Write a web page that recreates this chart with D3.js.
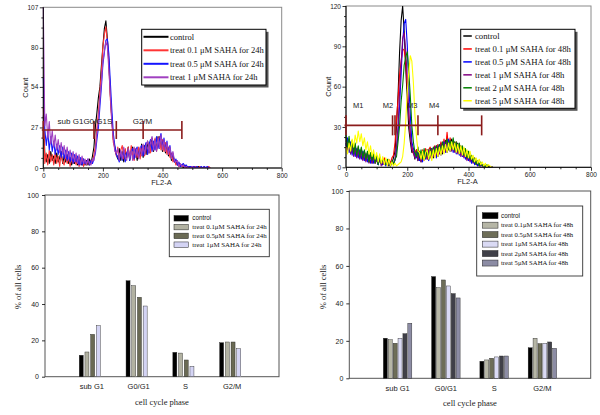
<!DOCTYPE html>
<html><head><meta charset="utf-8">
<script src="https://cdn.jsdelivr.net/npm/d3@7"></script>
<style>body{margin:0;background:#fff}svg{display:block}</style>
</head><body>
<svg id="c" width="600" height="415"></svg>
<script>
// ---------------- DATA ----------------
// Flow cytometry histograms (FL2-A channel, sampled every 5 units)
const channels24 = d3.range(0, 565, 5);
const channels48 = d3.range(0, 485, 5);

const names24 = ["control", "treat 0.1 \u03bcM SAHA for 24h", "treat 0.5 \u03bcM SAHA for 24h", "treat 1 \u03bcM SAHA for 24h"];
const colors24 = ["#000000", "#ff3535", "#1414ff", "#a040c0"];
const ctrl24 = [35,10,4,9,3,11,5,8,3,10, 4,7,11,3,8,4,9,3,7,2, 6,3,8,2,6,3,2,6,2,5, 2,6,3,8,14,28,37,47,54,68,
  81,93,98,86,71,49,33,19,14,9, 6,13,5,11,4,12,7,14,5,11, 14,6,12,5,13,8,16,7,15,9, 18,10,16,20,11,19,12,21,13,18,
  11,17,10,15,8,12,5,9,4,5, 2,3,1,2,0,2,0,1,0,1, 0,1,0,0,1,0,0,0,0,0, 0,0,0];
const t01_24 = [40,3,10,2,12,4,9,2,11,3, 8,1,10,4,2,9,3,7,1,6, 3,8,2,6,1,5,6,1,5,2, 6,2,5,4,9,15,27,37,51,64,
  81,89,94,84,69,46,31,17,13,8, 14,6,12,15,6,13,7,14,6,15, 8,5,13,7,14,6,13,15,8,16, 9,17,10,18,12,20,11,18,21,12,
  19,11,17,9,14,7,10,4,6,2, 4,1,2,1,2,0,1,0,1,0, 1,0,1,0,0,1,0,0,1,0, 0,1,0];
const t05_24 = [60,26,15,24,12,21,11,18,9,16, 9,15,7,14,6,12,5,11,4,10, 3,9,4,8,2,7,2,6,3,4, 6,2,5,3,6,10,19,27,41,54,
  69,77,85,86,76,57,39,23,15,9, 7,4,11,5,12,4,10,12,5,11, 13,6,12,14,7,13,15,8,14,17, 9,16,19,11,18,12,21,13,19,23,
  14,20,12,18,10,15,7,10,4,6, 2,4,1,2,3,1,2,0,1,1, 0,1,0,1,0,0,1,0,1,0, 1,0,0];
const t1_24 = [107,28,36,20,31,16,25,14,22,12, 19,10,17,9,15,7,14,6,12,5, 11,4,10,3,9,2,8,3,6,2, 6,3,2,6,5,12,23,32,46,57,
  71,78,84,81,65,49,30,20,11,10, 13,5,12,6,14,7,5,13,6,12, 5,14,7,13,6,14,8,16,9,15, 18,10,17,21,12,19,11,20,13,22,
  12,19,11,17,9,14,6,11,5,4, 5,1,3,1,2,0,1,0,0,0, 1,0,0,0,0,0,0,0,0,0, 0,0,0];

const names48 = ["control", "treat 0.1 \u03bcM SAHA for 48h", "treat 0.5 \u03bcM SAHA for 48h", "treat 1 \u03bcM SAHA for 48h", "treat 2 \u03bcM SAHA for 48h", "treat 5 \u03bcM SAHA for 48h"];
const colors48 = ["#000000", "#ff0000", "#0000ff", "#800080", "#008000", "#ffff00"];
const ctrl48 = [18,12,18,10,17,9,15,8,14,7, 13,6,12,5,11,4,10,3,9,4, 8,2,7,3,2,6,2,5,1,4, 3,7,12,31,54,86,109,120,101,74,
  51,29,19,11,12,6,13,5,11,4, 12,6,9,13,6,12,14,7,13,16, 8,15,18,10,17,20,11,19,12,21, 13,19,11,18,10,16,9,14,7,12,
  6,9,4,7,3,5,2,3,1,2, 0,1,0,1,0,0,0];
const t01_48 = [22,14,21,11,19,10,17,8,15,7, 14,6,12,5,11,4,10,4,9,3, 8,3,6,4,2,7,3,2,6,3, 7,9,18,36,51,69,79,88,87,79,
  59,41,24,16,10,11,13,7,12,5, 13,7,14,6,13,15,7,14,16,9, 17,10,19,12,21,13,26,14,22,13, 20,12,19,11,17,10,15,8,13,6,
  11,5,8,4,7,2,4,1,3,1, 2,0,1,0,0,0,0];
const t05_48 = [16,22,11,19,9,16,8,14,7,13, 6,12,5,10,4,9,3,9,3,8, 6,2,7,3,2,5,1,5,2,1, 4,3,5,13,24,46,69,93,107,110,
  91,61,39,19,14,9,7,13,5,11, 4,12,6,13,5,11,14,8,15,7, 14,17,9,16,19,11,18,21,12,19, 11,18,10,17,9,15,8,13,6,11,
  5,8,3,7,2,4,1,3,1,2, 0,1,0,0,0,0,0];
const t1_48 = [20,13,20,10,16,8,15,7,13,6, 12,5,11,4,10,3,9,3,8,3, 5,3,6,1,6,2,3,5,2,1, 4,3,6,16,31,56,77,96,100,87,
  66,39,25,13,11,7,12,5,11,4, 11,5,12,6,13,7,14,8,15,9, 16,10,17,11,18,12,20,13,19,12, 18,11,17,10,15,8,13,7,12,5,
  10,4,7,3,6,2,4,1,2,1, 1,0,0,0,0,0,0];
const t2_48 = [24,15,23,12,20,10,18,9,16,8, 15,7,13,6,12,4,11,5,10,3, 9,2,8,3,6,4,2,6,3,1, 5,2,6,8,19,31,49,61,76,82,
  86,71,53,31,19,11,8,15,7,13, 6,14,7,13,6,14,8,15,9,16, 10,17,11,19,12,18,21,13,20,14, 22,13,19,12,18,11,16,9,14,7,
  12,6,9,4,7,2,5,1,4,1, 2,0,2,0,0,0,0];
const t5_48 = [15,10,18,12,21,15,24,18,27,19, 25,16,22,13,19,10,16,8,13,6, 11,4,10,3,8,2,7,1,6,1, 4,1,3,1,2,3,4,8,18,34,
  56,71,83,79,63,39,23,12,11,6, 12,5,11,13,6,12,5,13,7,14, 8,15,9,16,10,17,11,18,12,19, 13,18,11,17,10,16,9,15,8,13,
  7,12,6,9,4,7,3,6,2,4, 1,3,0,2,1,0,0];

const yTicks24 = [0, 27, 54, 80, 107];
const yTicks48 = [0, 30, 60, 90, 120];
const xTicksFL = [0, 200, 400, 600, 800];
const gates24 = [0, 170, 245, 335, 465];
const gateLevel24 = 25.3;
const gateLabels24 = ["sub G1G0/G1S", "G2/M"];
const gateLabelPos24 = [48, 300];
const gates48 = [0, 152, 160, 235, 300, 443];
const gateLevel48 = 31.2;
const gateLabels48 = ["M1", "M2", "M3", "M4"];
const gateLabelPos48 = [40, 137, 216, 288];

// Bar charts (% of all cells)
const phases = ["sub G1", "G0/G1", "S", "G2/M"];
const barNames24 = ["control", "treat 0.1\u03bcM SAHA for 24h", "treat 0.5\u03bcM SAHA for 24h", "treat 1\u03bcM SAHA for 24h"];
const barColors24 = ["#000000", "#b2b2a2", "#6a6a54", "#d4d4f4"];
const bar24_ctrl = [11.8, 52.8, 13.4, 18.7];
const bar24_01 = [13.6, 50.1, 13.0, 19.1];
const bar24_05 = [23.3, 43.7, 9.2, 19.1];
const bar24_1 = [28.1, 38.9, 5.7, 15.4];

const barNames48 = ["control", "treat  0.1\u03bcM SAHA for 48h", "treat  0.5\u03bcM SAHA for 48h", "treat  1\u03bcM SAHA for 48h", "treat  2\u03bcM SAHA for 48h", "treat  5\u03bcM SAHA for 48h"];
const barColors48 = ["#000000", "#b6b6a6", "#6e6e58", "#dadaf4", "#404048", "#8c8ca4"];
const bar48_ctrl = [21.4, 54.3, 9.1, 16.3];
const bar48_01 = [20.6, 48.4, 9.8, 21.4];
const bar48_05 = [18.7, 52.5, 10.7, 18.5];
const bar48_1 = [21.4, 49.3, 11.4, 18.7];
const bar48_2 = [23.8, 45.2, 11.9, 19.4];
const bar48_5 = [29.4, 42.9, 11.9, 16.0];
const barTicks = [0, 20, 40, 60, 80, 100];

// ---------------- DRAWING ----------------
const svg = d3.select("#c");
const SANS = "'Liberation Sans', Arial, sans-serif";
const SERIF = "'Liberation Serif', 'Times New Roman', serif";

function styleAxis(sel, fs) {
  sel.select(".domain").remove();
  sel.selectAll(".tick line").attr("stroke", "#000").attr("stroke-width", 0.8);
  sel.selectAll(".tick text").attr("font-family", SANS).attr("font-size", fs).attr("fill", "#222");
}

function drawHist(o) {
  const g = svg.append("g");
  const x = d3.scaleLinear().domain([0, 800]).range([o.left, o.right]);
  const y = d3.scaleLinear().domain([0, o.ymax]).range([o.bottom, o.top]);
  g.append("rect").attr("x", o.left).attr("y", o.top).attr("width", o.right - o.left)
    .attr("height", o.bottom - o.top).attr("fill", "#fff").attr("stroke", "#8a8a8a").attr("stroke-width", 1);
  const cid = "clip" + o.id;
  g.append("clipPath").attr("id", cid).append("rect")
    .attr("x", o.left - 1).attr("y", o.top).attr("width", o.right - o.left + 1).attr("height", o.bottom - o.top);
  const line = d3.line().x((d, i) => x(o.channels[i])).y(d => y(d));
  g.append("g").attr("clip-path", `url(#${cid})`).selectAll("path").data(o.series).join("path")
    .attr("d", s => line(s.values)).attr("fill", "none").attr("stroke", s => s.color)
    .attr("stroke-width", 1.1).attr("stroke-linejoin", "round");
  // axes
  const xMinor = d3.range(0, 801, 50).filter(v => !o.xTicks.includes(v));
  g.append("g").attr("transform", `translate(0,${o.bottom})`)
    .call(d3.axisBottom(x).tickValues(xMinor).tickSize(2).tickFormat("")).call(styleAxis, 6.5);
  g.append("g").attr("transform", `translate(0,${o.bottom})`)
    .call(d3.axisBottom(x).tickValues(o.xTicks).tickSize(3.5).tickPadding(1.5)).call(styleAxis, 6.5);
  const yMinor = [];
  for (let i = 0; i < o.yTicks.length - 1; i++) {
    const a = o.yTicks[i], b = o.yTicks[i + 1];
    for (let k = 1; k < 4; k++) yMinor.push(a + (b - a) * k / 4);
  }
  g.append("g").attr("transform", `translate(${o.left},0)`)
    .call(d3.axisLeft(y).tickValues(yMinor).tickSize(2).tickFormat("")).call(styleAxis, 6.5);
  g.append("g").attr("transform", `translate(${o.left},0)`)
    .call(d3.axisLeft(y).tickValues(o.yTicks).tickSize(3.5).tickPadding(1.5)).call(styleAxis, 6.5);
  g.append("line").attr("x1", o.left).attr("x2", o.left).attr("y1", o.top).attr("y2", o.bottom).attr("stroke", "#000");
  g.append("line").attr("x1", o.left).attr("x2", o.right).attr("y1", o.bottom).attr("y2", o.bottom).attr("stroke", "#000");
  // titles
  g.append("text").attr("x", (o.left + o.right) / 2 - 1).attr("y", o.bottom + 16.5).attr("text-anchor", "middle")
    .attr("font-family", SANS).attr("font-size", 7.5).attr("fill", "#222").text("FL2-A");
  g.append("text").attr("transform", `translate(${o.left - 15},${(o.top + o.bottom) / 2}) rotate(-90)`)
    .attr("text-anchor", "middle").attr("font-family", SANS).attr("font-size", 7.5).attr("fill", "#222").text("Count");
  // gates
  const gc = "#8b1c1c", gy = y(o.gateLevel);
  g.append("line").attr("x1", x(d3.min(o.gates)) - 1.5).attr("x2", x(d3.max(o.gates))).attr("y1", gy).attr("y2", gy)
    .attr("stroke", gc).attr("stroke-width", 1.6);
  g.selectAll(".gt").data(o.gates).join("line").attr("x1", d => x(d)).attr("x2", d => x(d))
    .attr("y1", gy - o.gateH).attr("y2", gy + o.gateH).attr("stroke", gc).attr("stroke-width", 1.6);
  g.selectAll(".gl").data(o.gateLabels).join("text")
    .attr("x", (d, i) => x(o.gateLabelPos[i])).attr("y", y(o.gateLabelLevel))
    .attr("text-anchor", o.gateAnchor).attr("font-family", SANS).attr("font-size", o.gateFs).attr("fill", "#222").text(d => d);
  // legend
  const L = o.legend;
  g.append("rect").attr("x", L.x + 2.5).attr("y", L.y + 2.5).attr("width", L.w).attr("height", L.h).attr("fill", "#555");
  g.append("rect").attr("x", L.x).attr("y", L.y).attr("width", L.w).attr("height", L.h)
    .attr("fill", "#fff").attr("stroke", "#000").attr("stroke-width", 1);
  const rows = g.selectAll(".lr").data(o.series).join("g")
    .attr("transform", (d, i) => `translate(0,${L.y + L.r0 + i * L.dy})`);
  rows.append("line").attr("x1", L.sx).attr("x2", L.sx + L.sw).attr("stroke", d => d.color).attr("stroke-width", L.sl);
  rows.append("text").attr("x", L.tx).attr("dy", "0.33em").attr("font-family", SERIF).attr("font-size", L.fs)
    .attr("fill", "#111").text(d => d.name);
}

drawHist({
  id: "a", left: 43.3, right: 281.7, top: 7.3, bottom: 168, ymax: 107,
  yTicks: yTicks24, xTicks: xTicksFL, channels: channels24,
  series: [ctrl24, t01_24, t05_24, t1_24].map((v, i) => ({ name: names24[i], color: colors24[i], values: v })),
  gates: gates24, gateLevel: gateLevel24, gateH: 9, gateLabels: gateLabels24, gateLabelPos: gateLabelPos24,
  gateLabelLevel: 29, gateAnchor: "start", gateFs: 8,
  legend: { x: 141.7, y: 29.3, w: 124.3, h: 55.7, r0: 7.5, dy: 13.5, sx: 143.5, sw: 25, sl: 2, tx: 170, fs: 8.5 }
});
drawHist({
  id: "b", left: 346, right: 591, top: 6, bottom: 167.3, ymax: 120,
  yTicks: yTicks48, xTicks: xTicksFL, channels: channels48,
  series: [ctrl48, t01_48, t05_48, t1_48, t2_48, t5_48].map((v, i) => ({ name: names48[i], color: colors48[i], values: v })),
  gates: gates48, gateLevel: gateLevel48, gateH: 10, gateLabels: gateLabels48, gateLabelPos: gateLabelPos48,
  gateLabelLevel: 44, gateAnchor: "middle", gateFs: 7.5,
  legend: { x: 460.7, y: 29.3, w: 114.3, h: 79, r0: 6.7, dy: 12.95, sx: 463.3, sw: 8.5, sl: 1.5, tx: 475, fs: 8.7 }
});

function drawBars(o) {
  const g = svg.append("g");
  g.append("rect").attr("x", o.bgX).attr("y", o.bgY).attr("width", o.bgW).attr("height", 415 - o.bgY).attr("fill", "#fff");
  const x = d3.scalePoint().domain(phases).range([o.left, o.right]).padding(1);
  const x1 = d3.scaleBand().domain(o.names).range([-o.groupW / 2 + o.shift, o.groupW / 2 + o.shift]).paddingInner(o.pin);
  const y = d3.scaleLinear().domain([0, 100]).range([o.bottom, o.top]);
  g.append("rect").attr("x", o.left).attr("y", o.top).attr("width", o.right - o.left).attr("height", o.bottom - o.top)
    .attr("fill", "none").attr("stroke", "#555").attr("stroke-width", 1);
  o.series.forEach((vals, si) => {
    g.append("g").selectAll("rect").data(vals).join("rect")
      .attr("x", (d, i) => x(phases[i]) + x1(o.names[si])).attr("y", d => y(d))
      .attr("width", x1.bandwidth()).attr("height", d => y(0) - y(d))
      .attr("fill", o.colors[si]).attr("stroke", "#222").attr("stroke-width", 0.4);
  });
  g.append("g").attr("transform", `translate(${o.left},0)`)
    .call(d3.axisLeft(y).tickValues(barTicks).tickSize(3).tickPadding(3)).call(styleAxis, 7);
  g.selectAll(".cat").data(phases).join("text").attr("x", d => x(d)).attr("y", o.bottom + 12.5)
    .attr("text-anchor", "middle").attr("font-family", SANS).attr("font-size", 7.5).attr("fill", "#222").text(d => d);
  g.append("text").attr("x", o.xtX).attr("y", o.bottom + 28).attr("text-anchor", "middle")
    .attr("font-family", SERIF).attr("font-size", 8.5).attr("fill", "#222").text("cell cycle phase");
  g.append("text").attr("transform", `translate(${o.ytX},${o.ytY}) rotate(-90)`).attr("text-anchor", "middle")
    .attr("font-family", SERIF).attr("font-size", 8.5).attr("fill", "#222").text("% of all cells");
  const L = o.legend;
  g.append("rect").attr("x", L.x).attr("y", L.y).attr("width", L.w).attr("height", L.h)
    .attr("fill", "#fff").attr("stroke", "#333").attr("stroke-width", 0.9);
  const rows = g.selectAll(".lr").data(o.names).join("g")
    .attr("transform", (d, i) => `translate(0,${L.y + L.r0 + i * L.dy})`);
  rows.append("rect").attr("x", L.sx).attr("y", -L.sh / 2).attr("width", L.sw).attr("height", L.sh)
    .attr("fill", (d, i) => o.colors[i]).attr("stroke", "#222").attr("stroke-width", 0.5);
  rows.append("text").attr("x", L.tx).attr("dy", "0.33em")
    .attr("font-family", (d, i) => i === 0 ? SANS : SERIF).attr("font-size", (d, i) => i === 0 ? 6.3 : L.fs)
    .attr("fill", "#111").text(d => d);
}

drawBars({
  bgX: 0, bgY: 190, bgW: 300, left: 45, right: 279, top: 195, bottom: 376.7,
  names: barNames24, colors: barColors24, series: [bar24_ctrl, bar24_01, bar24_05, bar24_1],
  groupW: 21.1, shift: -2, pin: 0.3, xtX: 162, ytX: 21, ytY: 287,
  legend: { x: 169.3, y: 209.3, w: 100, h: 47.4, r0: 9, dy: 8.8, sx: 174, sw: 14.3, sh: 5.5, tx: 192.3, fs: 6.9 }
});
drawBars({
  bgX: 300, bgY: 186.2, bgW: 300, left: 349.3, right: 590.7, top: 191, bottom: 378.3,
  names: barNames48, colors: barColors48, series: [bar48_ctrl, bar48_01, bar48_05, bar48_1, bar48_2, bar48_5],
  groupW: 28.5, shift: 0, pin: 0.18, xtX: 470, ytX: 326, ytY: 287,
  legend: { x: 476.7, y: 206, w: 106, h: 70, r0: 9.7, dy: 9.47, sx: 482.3, sw: 15.7, sh: 6, tx: 501, fs: 6.7 }
});
</script>
</body></html>
